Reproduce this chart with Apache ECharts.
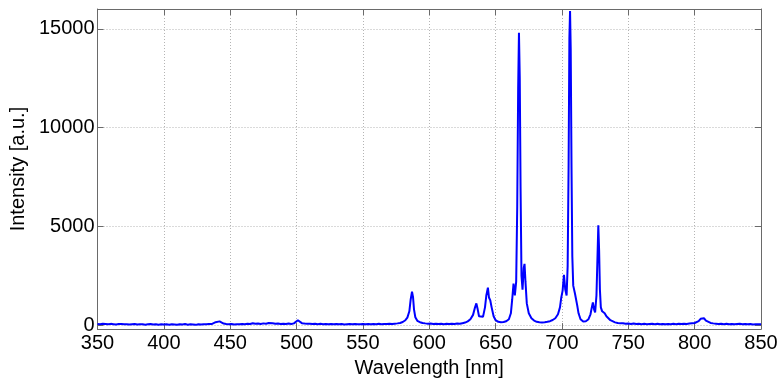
<!DOCTYPE html>
<html>
<head>
<meta charset="utf-8">
<script src="https://cdn.jsdelivr.net/npm/echarts@6/dist/echarts.min.js"></script>
<style>
html,body{margin:0;padding:0;background:#fff;}
#chart{width:782px;height:383px;}
</style>
</head>
<body>
<div id="chart"></div>
<script>
// ---- data ----
const wavelength = [
350,352,354,356,358,360,362,364,366,368,370,372,374,376,378,380,382,384,386,388,
390,392,394,396,398,400,402,404,406,408,410,412,414,416,418,420,422,424,426,428,
430,432,434,436,437.5,439,440.5,442,443.5,445,447,449,451,453,455,457,459,461,463,465,
467,469,471,473,475,477,479,480.5,482,484,486,488,490,492,494,496,498,499.5,501,502.5,
504,506,508,510,512,514,516,518,520,522,524,526,528,530,532,534,536,538,540,542,
544,546,548,550,552,554,556,558,560,562,564,566,568,570,572,574,576,578,580,582,
583.5,585,586,587,587.8,588.5,589.5,591,593,595,597,599,601,603,605,607,609,611,613,615,
617,619,621,623,625,627,629,631,633,634.5,635.5,636.5,637.5,639,640.5,642,643,644.2,645,646,
647,648.5,650,652,654,656,658,660,661.5,662.5,663.5,664.5,665.5,666.3,667,667.6,668.2,668.8,669.5,670.3,
671.2,671.8,672.5,673.5,675,677,679,681,683,685,687,689,691,693,695,697,698.5,699.5,700.5,701.5,
702.5,703.5,704.3,705,705.6,706.1,706.6,707.2,707.8,708.5,709.3,709.8,710.5,711.5,712.5,714,716,718,720,721.5,
722.5,723.3,724.2,725,726,726.8,727.4,728,728.6,729.3,730.3,731.2,732.2,733.5,735,736.5,738,740,742,744,
746,748,750,752,754,756,758,760,762,764,766,768,770,772,774,776,778,780,782,784,
786,788,790,792,794,796,798,800,801.5,803,804.5,805.8,807,808.5,810,812,814,816,818,820,
822,824,826,828,830,832,834,836,838,840,842,844,846,848,850
];
const intensity = [
60,45,70,55,40,65,50,35,55,60,40,50,30,45,60,35,50,40,25,45,
55,35,40,20,45,30,40,25,50,35,20,45,30,55,25,40,30,15,45,35,
50,40,60,55,80,150,250,190,110,80,60,45,55,35,50,40,60,45,70,55,
95,70,85,60,90,75,110,170,100,70,85,60,75,55,80,60,90,140,250,160,
100,80,65,75,55,70,50,65,45,60,40,55,45,60,40,55,35,50,60,45,
55,40,50,60,45,55,40,60,50,65,45,60,55,70,60,75,90,110,160,250,
380,700,1300,1700,1400,800,400,220,150,110,90,75,85,60,75,55,70,50,65,55,
70,60,80,70,100,130,190,300,520,900,1100,800,450,380,420,900,1500,1900,1400,1250,
900,450,250,170,150,160,200,300,600,1300,2100,1500,2200,6000,12000,14800,12500,7000,2500,1800,
2900,3100,2200,1100,600,350,230,170,150,140,150,170,200,260,350,550,900,1400,1750,2550,
1800,1500,3000,8000,14500,15900,14000,8000,3500,2000,2100,1600,1500,1000,600,300,180,200,300,550,
900,1150,800,650,1500,3500,5050,3800,1800,900,700,750,600,450,350,250,180,140,110,90,
100,70,80,60,85,55,70,50,65,45,60,70,50,65,45,60,40,55,45,65,
50,70,55,75,60,80,95,110,140,200,320,420,350,230,160,110,90,75,60,70,
50,65,45,60,40,55,70,45,60,40,55,35,50,40,45
];
const xTicks = [350,400,450,500,550,600,650,700,750,800,850];
const yTicks = [0,5000,10000,15000];

const FONT = "'Liberation Sans', Arial, Helvetica, sans-serif";
const AXIS_COLOR = '#6a6a6a';
const GRID_COLOR = '#b4b4b4';

const seriesData = wavelength.map((w, i) => [w, intensity[i]]);

const chart = echarts.init(document.getElementById('chart'), null, {renderer: 'canvas'});
chart.setOption({
  animation: false,
  backgroundColor: '#ffffff',
  grid: {left: 93, right: 21, top: 9, bottom: 51, containLabel: false},
  xAxis: [{
    type: 'value', position: 'bottom',
    min: xTicks[0], max: xTicks[xTicks.length - 1], interval: 50,
    name: 'Wavelength [nm]', nameLocation: 'middle', nameGap: 25,
    nameTextStyle: {color: '#000', fontSize: 20, fontFamily: FONT},
    axisLine: {show: true, onZero: false, lineStyle: {color: AXIS_COLOR, width: 1}},
    axisTick: {show: true, inside: true, length: 6, lineStyle: {color: AXIS_COLOR}},
    axisLabel: {color: '#000', fontSize: 20, fontFamily: FONT, margin: 4},
    splitLine: {show: true, lineStyle: {color: GRID_COLOR, type: [1, 2], width: 1}}
  }, {
    type: 'value', position: 'top',
    min: xTicks[0], max: xTicks[xTicks.length - 1], interval: 50,
    axisLine: {show: true, onZero: false, lineStyle: {color: AXIS_COLOR, width: 1}},
    axisTick: {show: true, inside: true, length: 6, lineStyle: {color: AXIS_COLOR}},
    axisLabel: {show: false},
    splitLine: {show: false}
  }],
  yAxis: [{
    type: 'value', position: 'left',
    min: -200, max: 16000, splitNumber: 3, minInterval: 5000, maxInterval: 5000,
    name: 'Intensity [a.u.]', nameLocation: 'middle', nameGap: 62,
    nameTextStyle: {color: '#000', fontSize: 20, fontFamily: FONT},
    axisLine: {show: true, onZero: false, lineStyle: {color: AXIS_COLOR, width: 1}},
    axisTick: {show: true, inside: true, length: 6, lineStyle: {color: AXIS_COLOR}},
    axisLabel: {color: '#000', fontSize: 20, fontFamily: FONT, margin: 3,
      formatter: v => (yTicks.indexOf(v) >= 0 ? String(v) : '')},
    splitLine: {show: true, lineStyle: {color: GRID_COLOR, type: [1, 2], width: 1}}
  }, {
    type: 'value', position: 'right',
    min: -200, max: 16000, splitNumber: 3, minInterval: 5000, maxInterval: 5000,
    axisLine: {show: true, onZero: false, lineStyle: {color: AXIS_COLOR, width: 1}},
    axisTick: {show: true, inside: true, length: 6, lineStyle: {color: AXIS_COLOR}},
    axisLabel: {show: false},
    splitLine: {show: false}
  }],
  series: [{
    type: 'line',
    xAxisIndex: 0, yAxisIndex: 0,
    data: seriesData,
    showSymbol: false,
    symbol: 'none',
    lineStyle: {color: '#0000ff', width: 2},
    itemStyle: {color: '#0000ff'}
  }]
});
</script>
</body>
</html>
